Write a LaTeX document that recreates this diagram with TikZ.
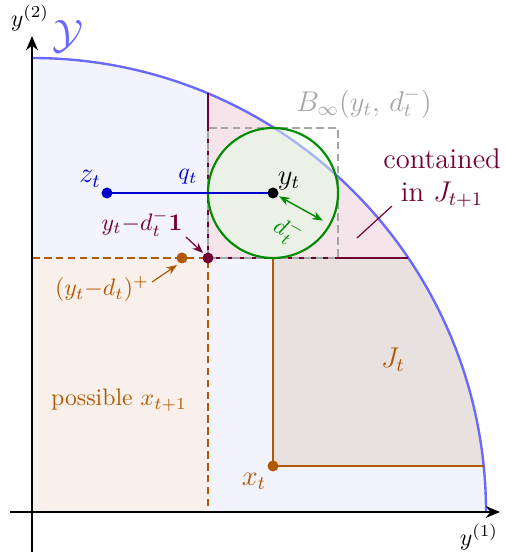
\documentclass[tikz,border=0pt]{standalone}
\usetikzlibrary{arrows.meta}
\definecolor{bluec}{RGB}{105,105,255}
\definecolor{bluefill}{RGB}{243,243,254}
\definecolor{zblue}{RGB}{0,0,205}
\definecolor{greenc}{RGB}{0,140,0}
\definecolor{greenfill}{RGB}{229,255,229}
\definecolor{maroonc}{RGB}{115,0,50}
\definecolor{brownc}{RGB}{178,88,0}
\definecolor{possfill}{RGB}{250,240,235}
\definecolor{jtfill}{RGB}{233,224,224}
\definecolor{jtonefill}{RGB}{245,228,234}
\definecolor{grayc}{RGB}{165,165,165}
\begin{document}
\begin{tikzpicture}[x=0.42pt,y=0.42pt,
  thickline/.style={line width=0.8pt},
  dashline/.style={line width=0.8pt, dash pattern=on 3.2pt off 1.8pt},
  dot/.style={fill=#1},
  tip/.style={-{Stealth[length=4.5pt,width=3.5pt]}},
  axis/.style={line width=0.8pt,-{Stealth[length=6pt,width=5pt]}}]
\useasboundingbox (0,0) rectangle (504,552);
% named points
\coordinate (O) at (32,40);
\coordinate (arcR) at (486,40);
\coordinate (yt) at (273,359);
\coordinate (c) at (208,294);
\coordinate (sq) at (338,424);
\coordinate (xt) at (273,86);
\coordinate (xtop) at (273,294);
\coordinate (yp) at (182,294);
\coordinate (zt) at (107,359);
\coordinate (cA) at (208,458.5);
\coordinate (cB) at (408.3,294);
\coordinate (xB) at (483.7,86);
\coordinate (hl) at (32,294);
\coordinate (vb) at (208,40);
\coordinate (xl) at (10,40);
\coordinate (xr) at (500,40);
\coordinate (yb) at (32,0);
\coordinate (ytop) at (32,516);
% regions
\fill[bluefill] (O) -- (arcR) arc[start angle=0,end angle=90,radius=454] -- cycle;
\fill[possfill] (O) rectangle (c);
\begin{scope}
  \clip (O) circle[radius=454];
  \fill[jtfill] (xt) rectangle (500,500);
  \fill[jtonefill] (c) rectangle (500,500);
\end{scope}
\draw[bluec, line width=1pt] (arcR) arc[start angle=0,end angle=90,radius=454];
% J_t borders
\draw[brownc, thickline] (xB) -- (xt) -- (xtop);
% J_{t+1} borders
\draw[maroonc, thickline] (cB) -- (c) -- (cA);
% possible region dashed
\draw[brownc, dashline] (hl) -- (c) -- (vb);
% box
\draw[grayc, dashline] (c) rectangle (sq);
% circle
\draw[greenc, line width=0.9pt, fill=greenfill, fill opacity=0.5] (yt) circle[radius=65];
% d_t arrow
\coordinate (g1) at ([shift={(-29:7)}]yt);
\coordinate (g2) at ([shift={(-29:57)}]yt);
\draw[greenc, line width=0.6pt, {Stealth[length=4.5pt,width=3.5pt]}-{Stealth[length=4.5pt,width=3.5pt]}] (g1) -- (g2);
\node[greenc, rotate=-29] (dl) at (288,320.5) {$d_t^-$};
% z_t to y_t
\draw[zblue, thickline] (zt) -- (yt);
% axes
\draw[axis] (xl) -- (xr);
\draw[axis] (yb) -- (ytop);
% dots
\fill[zblue] (zt) circle[radius=5.5];
\fill[black] (yt) circle[radius=5.5];
\fill[maroonc] (c) circle[radius=5.5];
\fill[brownc] (yp) circle[radius=5.5];
\fill[brownc] (xt) circle[radius=5.5];
% labels
\node (ly2) at (30,534) {$y^{(2)}$};
\node (ly1) at (479,15) {$y^{(1)}$};
\node[bluec] (lY) at (68,516) {\LARGE $\mathcal{Y}$};
\node[zblue] (lzt) at (90,373) {\large $z_t$};
\node[zblue] (lqt) at (188,375) {$q_t$};
\node (lyt) at (289,371) {\large $y_t$};
\node[grayc] (lB) at (364,449) {\large $B_\infty(y_t,\,d_t^-)$};
\node[maroonc, align=center, font=\large] (lcont) at (442,374) {contained\\in $J_{t+1}$};
\coordinate (m1) at (357,314);
\coordinate (m2) at (392,346);
\draw[maroonc, line width=0.5pt] (m1) -- (m2);
\node[maroonc] (lc) at (142,329) {$y_t{-}d_t^-\mathbf{1}$};
\coordinate (a1) at (186,315);
\coordinate (a2) at (203,299);
\draw[maroonc, line width=0.5pt, tip] (a1) -- (a2);
\node[brownc] (lyp) at (102,263) {$(y_t{-}d_t)^+$};
\coordinate (b1) at (152,270);
\coordinate (b2) at (177,287);
\draw[brownc, line width=0.5pt, tip] (b1) -- (b2);
\node[brownc] (lposs) at (119,152) {possible $x_{t+1}$};
\node[brownc] (lJt) at (393,192) {\large $J_t$};
\node[brownc] (lxt) at (254,71) {\large $x_t$};
\end{tikzpicture}
\end{document}
